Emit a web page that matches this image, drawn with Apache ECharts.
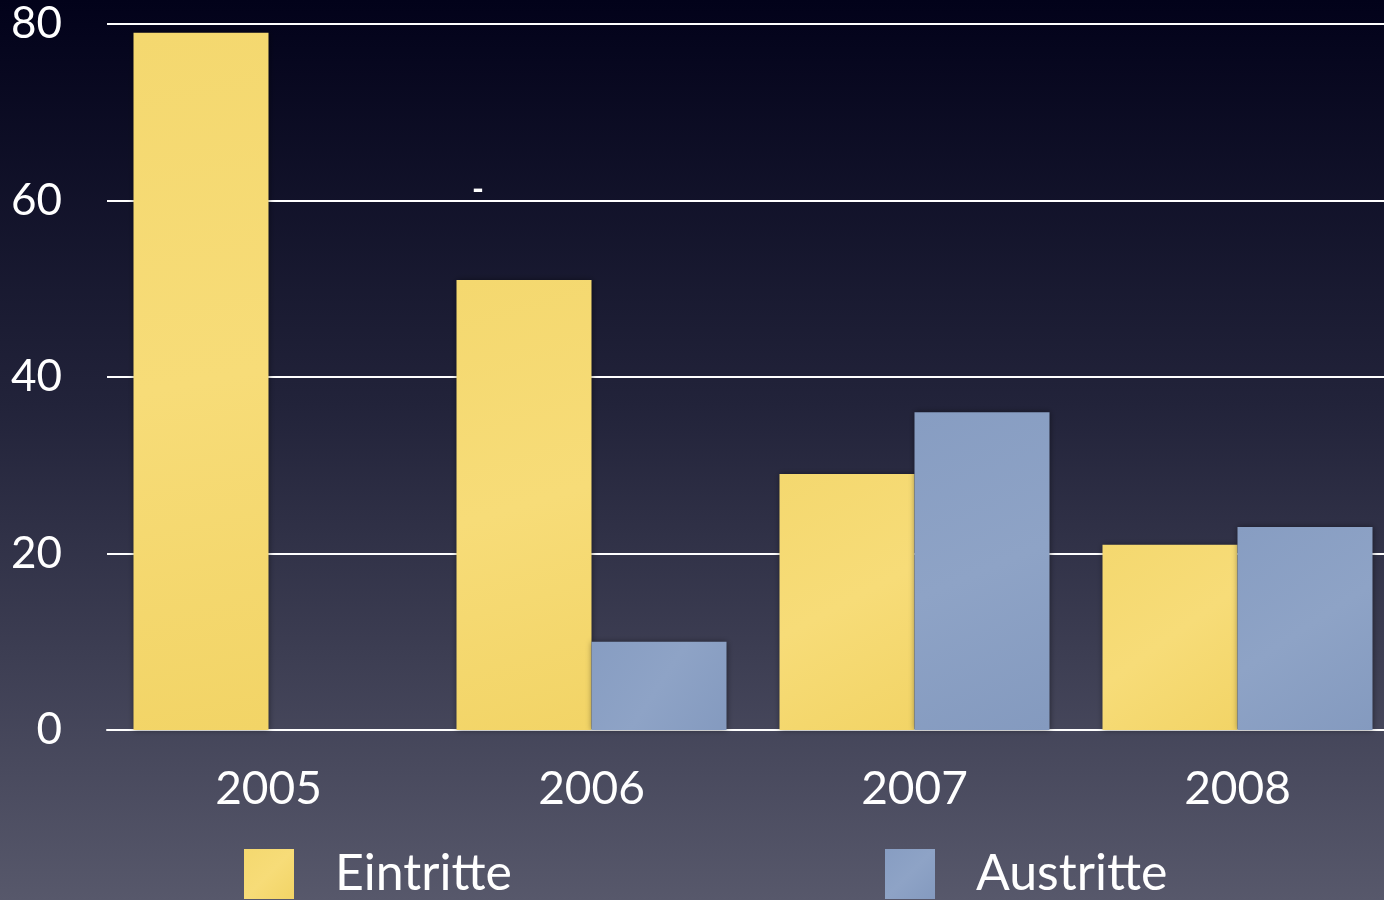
<!DOCTYPE html>
<html><head><meta charset="utf-8">
<script src="https://cdn.jsdelivr.net/npm/echarts@6/dist/echarts.min.js"></script>
<style>html,body{margin:0;padding:0;width:1384px;height:900px;overflow:hidden;background:#000;}#c{width:1399px;height:900px;}</style>
</head><body><div id="c"></div>
<script>
var categories = ['2005','2006','2007','2008'];
var eintritte = [79, 51, 29, 21];
var austritte = [null, 10, 36, 23];
var yTicks = [0, 20, 40, 60, 80];

var font = 'Lato, "Open Sans", sans-serif';
var chart = echarts.init(document.getElementById('c'), null, {renderer:'canvas'});
var yellow = new echarts.graphic.LinearGradient(0,0,1,1,[{offset:0,color:'#f4d86f'},{offset:0.5,color:'#f7dc78'},{offset:1,color:'#f2d466'}]);
var blue = new echarts.graphic.LinearGradient(0,0,1,1,[{offset:0,color:'#879dc2'},{offset:0.5,color:'#8ea3c6'},{offset:1,color:'#849abf'}]);
chart.setOption({
  backgroundColor: new echarts.graphic.LinearGradient(0,0,0,1,[{offset:0,color:'#02021a'},{offset:0.45,color:'#22233a'},{offset:1,color:'#57586b'}]),
  animation:false,
  grid:{left:107, top:24, right:0, bottom:170, containLabel:false},
  legend:[
    {data:['Eintritte'], left:244, top:849, padding:0, itemWidth:50, itemHeight:50, itemGap:0, icon:'rect',
     textStyle:{color:'#fff', fontSize:50, fontFamily:font, padding:[0,0,0,36]}},
    {data:['Austritte'], left:885, top:849, padding:0, itemWidth:50, itemHeight:50, itemGap:0, icon:'rect',
     textStyle:{color:'#fff', fontSize:50, fontFamily:font, padding:[0,0,0,36]}}
  ],
  xAxis:{type:'category', data:categories,
    axisLine:{lineStyle:{color:'#ffffff', width:2}}, axisTick:{show:false},
    axisLabel:{color:'#fff', fontSize:46, fontFamily:font, margin:36}},
  yAxis:{type:'value', min:yTicks[0], max:yTicks[yTicks.length-1], interval:20,
    axisLine:{show:false}, axisTick:{show:false},
    splitLine:{lineStyle:{color:'#ffffff', width:2}},
    axisLabel:{color:'#fff', fontSize:44, fontFamily:font, margin:45}},
  series:[
    {name:'Eintritte', type:'bar', data:eintritte, barWidth:135, barGap:'0%',
     itemStyle:{color:yellow, shadowBlur:6, shadowColor:'rgba(0,0,0,0.45)'}},
    {name:'Austritte', type:'bar', data:austritte, barWidth:135, barGap:'0%',
     itemStyle:{color:blue, shadowBlur:6, shadowColor:'rgba(0,0,0,0.45)'}}
  ],
  graphic:[{type:'text', left:472, top:174, style:{text:'-', fill:'#fff', fontSize:32, fontFamily:font, fontWeight:'bold'}}]
});
</script></body></html>
